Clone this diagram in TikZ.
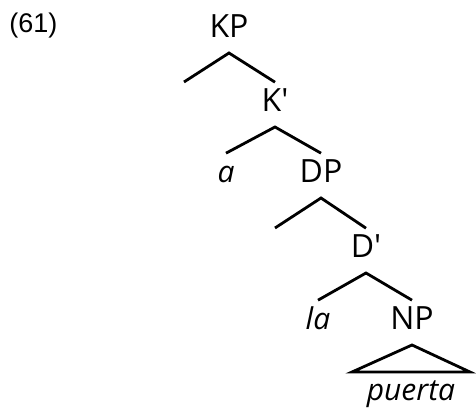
\documentclass[tikz,border=0pt]{standalone}
\usepackage{fontspec}
\setmainfont{Liberation Sans}
\newfontfamily\treefont{Open Sans}

\begin{document}
\begin{tikzpicture}[x=0.5pt,y=-0.5pt,
                cat/.style={font=\treefont\fontsize{16}{19}\selectfont, inner sep=0pt, outer sep=3.5pt,
                            text height=11.4pt, text depth=4pt, anchor=base},
                word/.style={cat, font=\treefont\itshape\fontsize{15}{18}\selectfont},
                branch/.style={line width=1.4pt}]
                \useasboundingbox (0,0) rectangle (476,410);

                \node[font=\fontsize{13.5}{16}\selectfont, anchor=base west, inner sep=0pt] (ex) at (9,33) {(61)};

                \node[cat] (KP) at (229,38) {KP};
                \node[cat] (Kbar) at (275,112) {K'};
                \node[word] (K) at (226,183) {a};
                \node[cat] (DP) at (321,183) {DP};
                \node[cat] (Dbar) at (366,258) {D'};
                \node[word] (D) at (318,330) {la};
                \node[cat] (NP) at (412,330) {NP};
                \node[word] (N) at (411,401) {puerta};

                % empty specifiers
                \coordinate (KPspec) at (184,82);
                \coordinate (DPspec) at (275,228);

                \draw[branch] (KPspec) -- (KP.south) -- (Kbar.north);
                \draw[branch] (K.north) -- (Kbar.south) -- (DP.north);
                \draw[branch] (DPspec) -- (DP.south) -- (Dbar.north);
                \draw[branch] (D.north) -- (Dbar.south) -- (NP.north);
                \draw[branch, line join=miter] (NP.south) -- ++(-60,27) -- ++(118,0) -- cycle;
            \end{tikzpicture}
\end{document}
